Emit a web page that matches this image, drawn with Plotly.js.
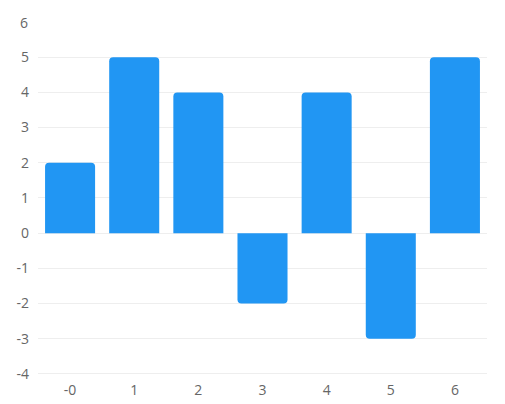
<!DOCTYPE html>
<html>
<head>
<meta charset="utf-8">
<script src="https://cdn.plot.ly/plotly-3.0.1.min.js"></script>
<style>html,body{margin:0;padding:0;background:#fff;}#chart{width:505px;height:404px;}</style>
</head>
<body>
<div id="chart"></div>
<script>
var categories = ["-0", "1", "2", "3", "4", "5", "6"];
var values = [2, 5, 4, -2, 4, -3, 5];
var yTicks = [-4, -3, -2, -1, 0, 1, 2, 3, 4, 5];
var yTopLabel = 6;

var font = {family: "Open Sans, Noto Sans, sans-serif", size: 14, color: "#666"};

Plotly.newPlot("chart", [{
  type: "bar",
  x: categories,
  y: values,
  marker: {color: "#2196F3", cornerradius: 4, line: {width: 0}},
  hoverinfo: "none"
}], {
  width: 505, height: 404,
  margin: {l: 38, r: 18, t: 21.5, b: 29},
  paper_bgcolor: "#fff", plot_bgcolor: "#fff",
  bargap: 0.22,
  showlegend: false,
  xaxis: {type: "category", showgrid: false, zeroline: false, showline: false,
    ticks: "", tickfont: font, ticklabelstandoff: 5},
  yaxis: {range: [-4.03, 6], tickvals: yTicks, ticktext: yTicks.map(String),
    showgrid: true, gridcolor: "#eeeeee", gridwidth: 1, zeroline: false, showline: false,
    ticks: "", tickfont: font, ticklabelstandoff: 8},
  annotations: [{xref: "paper", yref: "y", x: 0, y: yTopLabel, text: String(yTopLabel),
    showarrow: false, xanchor: "right", xshift: -8, font: font}]
}, {displayModeBar: false, staticPlot: true});
</script>
</body>
</html>
